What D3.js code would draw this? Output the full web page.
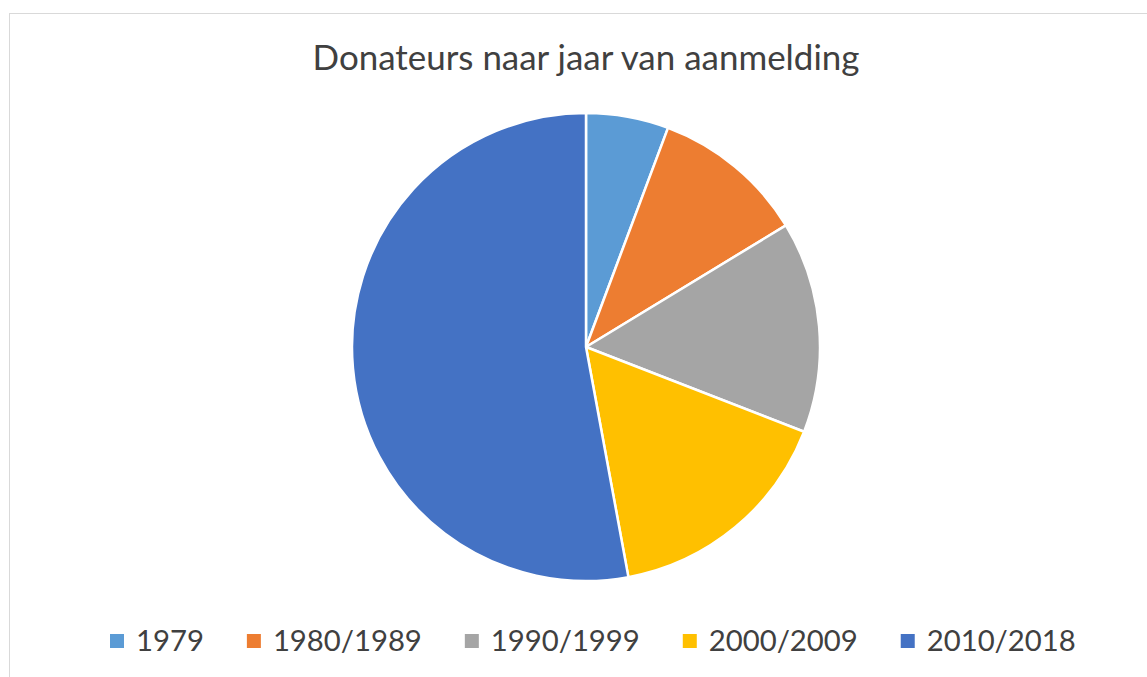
<!DOCTYPE html>
<html><head><meta charset="utf-8">
<script src="https://cdn.jsdelivr.net/npm/d3@7"></script>
<style>html,body{margin:0;padding:0;background:#fff;}</style>
</head><body>
<script>
const categories = ["1979","1980/1989","1990/1999","2000/2009","2010/2018"];
const values = [5.7, 10.6, 14.6, 16.2, 52.9];
const colors = ["#5B9BD5","#ED7D31","#A5A5A5","#FFC000","#4472C4"];
const title = "Donateurs naar jaar van aanmelding";

const W = 1147, H = 677;
const svg = d3.select("body").append("svg").attr("width", W).attr("height", H);
svg.append("rect").attr("x",9.5).attr("y",13.5).attr("width",1160).attr("height",700)
  .attr("fill","#fff").attr("stroke","#d9d9d9").attr("stroke-width",1);

const font = "Lato, 'Open Sans', sans-serif";
const t = svg.append("text").attr("x",586).attr("y",70).attr("text-anchor","middle")
  .attr("font-family",font).attr("fill","#404040").attr("font-size",30).text(title);
const tw = t.node().getComputedTextLength();
t.attr("font-size", 30*547/tw);

const cx = 586, cy = 347, r = 234;
const pie = d3.pie().sort(null).value(d=>d.v);
const arc = d3.arc().innerRadius(0).outerRadius(r);
const data = categories.map((c,i)=>({c, v: values[i], col: colors[i]}));
svg.append("g").attr("transform",`translate(${cx},${cy})`)
  .selectAll("path").data(pie(data)).join("path")
  .attr("d",arc).attr("fill",d=>d.data.col)
  .attr("stroke","#fff").attr("stroke-width",2.5).attr("stroke-linejoin","round");

// legend
const lg = svg.append("g");
// measure font size so that "1980/1989" ~ 149px
const probe = lg.append("text").attr("font-family",font).attr("font-size",30).text("1980/1989");
const lfs = 30*149/probe.node().getComputedTextLength();
probe.remove();
let x = 110;
data.forEach(d=>{
  lg.append("rect").attr("x",x).attr("y",634).attr("width",14).attr("height",14).attr("fill",d.col);
  const tx = lg.append("text").attr("x",x+26).attr("y",651).attr("font-family",font)
    .attr("font-size",lfs).attr("fill","#404040").text(d.c);
  x = x + 26 + tx.node().getComputedTextLength() + 43;
});
</script>
</body></html>
